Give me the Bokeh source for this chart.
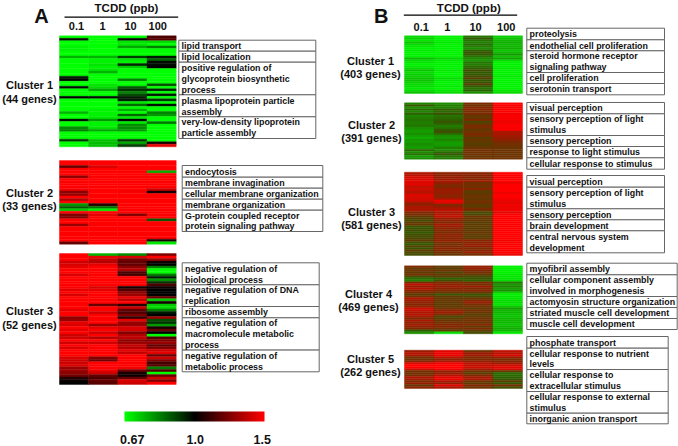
import numpy as np
from bokeh.embed import file_html
from bokeh.resources import INLINE
from bokeh.plotting import figure
from bokeh.models import ColumnDataSource, LinearColorMapper, ColorBar, FixedTicker
from bokeh.core.properties import value
from bokeh.transform import transform

doses = ["0.1", "1", "10", "100"]
legend_ticks = ["0.67", "1.0", "1.5"]

# Panel A: log-scaled expression, -1 green, 0 black, +1 red
a1_01 = [-1,-.05,-1,-1,-.95,-.95,-1,-1,-.7,-1, -1,-1,-1,-1,-1,-1,-.1,-.02,-1,-1, -.05,-1,-1,-1,-.02,-1,-1,-1,-1,-1, -.7,-1,-1,-.05,-1,-1,-.55,-.5,-1,-1, -1,-.2,-1,-1]
a1_1 = [-1,-1,-1,-1,-1,-1,-1,-1,-.7,-.95, -.95,-.9,-.95,-.9,-.7,-1,-1,-1,-1,-.9, -.85,-.65,-1,-1,-.05,-1,-1,-1,-1,-.95, -.95,-.95,-.9,-.6,-.95,-.95,-.9,-.65,-1,-1, -1,-.75,-.75,-.75]
a1_10 = [-1,-.02,-.9,-.9,-.65,-1,-1,-1,-.25,-.9, -.95,-.15,-.8,-1,-1,-1,-1,-.5,-1,-1, -.35,-.2,-.5,-.3,-.1,-.1,-.9,-.4,-1,-.7, -1,-.4,-.9,-.02,-.9,-.55,-.55,-.6,-1,-1, -1,-.2,-.65,-.25]
a1_100 = [.3,.35,-.85,-1,-.5,-1,-1,-1,-.1,-.4, -.05,-.05,-.02,-1,-1,-1,-1,-1,-1,-.3, -1,-.15,-1,-.1,-1,-.2,-1,-.05,-1,-1, -.5,-.6,-1,-1,-.45,-1,-1,-1,-1,-1, -1,-1,.1,.9]

a2_01 = [1,1,.4,1,1,1,.55,1,1,1, 1,.95,.55,.6,1,.7,1,-.6,-.35,-.8, 1,.5,.5,1,1,.6,1,1,1,1, 1,1,.4]
a2_1 = [1,1,.85,1,1,1,1,1,1,1, 1,1,1,1,1,1,1,.15,-.45,-.95, 1,.9,1,1,1,1,1,1,1,1, 1,1,1]
a2_10 = [1,1,1,1,1,1,1,1,1,1, 1,1,.95,1,1,1,1,1,1,1, 1,.5,1,1,1,1,1,1,1,1, 1,1,1]
a2_100 = [1,1,1,1,-.7,1,1,1,1,1, 1,.8,.1,1,1,1,1,1,1,1, 1,1,1,-.35,1,1,1,1,1,1, 1,.1,-.9]

a3_01 = [1,1,1,.8,.85,.9,1,1,.85,1, 1,1,1,1,.9,1,.85,1,1,1, 1,1,.9,1,1,.55,.6,.9,.85,1, .9,1,.8,.8,1,.8,1,.85,1,1, 1,.85,.8,.8,.85,.6,.6,.55,.45,.15, .05,0]
a3_1 = [-.7,.9,.75,.7,.9,1,1,1,1,1, 1,1,1,.85,.9,1,1,1,1,1, .4,1,1,.8,1,1,1,1,.6,.9, 1,.8,1,.7,1,.8,1,1,1,1, 1,.5,.45,1,1,1,.9,.8,.4,.3, .4,.35]
a3_10 = [-.55,.85,.45,.4,.4,.55,.7,.3,.25,1, 1,1,1,.1,.3,.55,.6,.9,.75,1, .15,.8,.4,.3,.5,.2,.9,.6,.6,.85, .85,.5,.7,.75,.55,.6,.75,.7,.9,.75, 1,1,1,1,1,.95,.45,.1,.05,.4, .85,.8]
a3_100 = [.5,1,.6,.05,0,-.5,-1,-1,-.5,-.1, -.6,-.2,.3,.05,0,0,0,.4,-.8,.1, -.8,-.85,-.5,-.1,0,.6,-.3,-.2,-.6,.1, .4,0,-1,.3,.5,.6,.4,.5,.8,.9, .4,.8,.5,.25,.35,-.5,.3,-1,.4,.8, .5,1]

# Panel B: averaged stripes, -1 green, 0 olive-brown, +1 red
b1_01 = [-.85,-.8,-.9,-.75,-.85,-.9,-.95,-.9,-.95,-.95, -.95,-.7,-.85,-.9,-.95,-.9,-.85,-.75,-.85,-.8, -.8,-.75,-.75,-.8,-.85,-.85,-.9,-.85,-.75]
b1_1 = [-.95,-.95,-.95,-.9,-.95,-.95,-.95,-.95,-.95,-.95, -.95,-.8,-.9,-.95,-.95,-.95,-.95,-.9,-.95,-.95, -.95,-.85,-.9,-.95,-.95,-.9,-.95,-.9,-.85]
b1_10 = [-.35,-.2,-.35,-.45,-.3,-.4,-.5,-.25,-.15,-.2, -.35,-.45,-.55,-.35,-.4,-.3,-.25,-.1,-.2,-.2, -.1,0,-.2,-.15,0,-.2,-.35,-.25,-.5]
b1_100 = [-.8,-.75,-.7,-.65,-.7,-.7,-.65,-.75,-.7,-.55, -.75,-.6,-.85,-.95,-.95,-.95,-.9,-.95,-.95,-.95, -.9,-.95,-.95,-.95,-.95,-.95,-.95,-.9,-.85]

b2_01 = [-.45,-.15,-.5,-.3,-.45,-.25,-.45,-.4,-.35,-.4, -.4,-.35,-.5,-.55,-.6,-.5,-.6,-.65,-.55,-.6, -.5,-.55,-.6,-.25,-.5,-.3,-.6,-.5]
b2_1 = [-.5,-.4,-.45,-.2,-.3,-.15,-.35,-.3,-.25,-.15, -.25,-.4,-.35,-.2,-.1,-.3,-.5,-.55,-.45,-.55, -.6,-.55,-.4,-.5,-.3,-.15,-.35,-.4]
b2_10 = [.3,.2,.35,.4,.25,.3,.15,.1,.35,-.05, .1,.3,.25,.1,.2,.3,.25,.05,.15,.1, 0,.1,.15,.25,.2,.2,.15,.2]
b2_100 = [.98,.98,.95,.98,.98,.95,.98,.95,.98,.9, .95,.98,.98,.98,.6,.6,.55,.5,.45,.3, .25,.2,.15,.2,.2,.15,.2,.2]

b3_01 = [.6,.65,.8,.8,.85,.85,.85,.7,.75,.7, .65,.85,.8,.8,.75,.55,.4,.6,.6,.6, .3,.3,.1,0,-.1,.1,.15,-.15,-.15,-.1, -.2,-.1,-.1,-.05,.1,-.1,-.2,0,-.15,.1, -.05,-.1]
b3_1 = [.45,.4,.5,.5,.6,.5,.35,.3,.5,.5, .5,.4,.4,.6,.9,.85,.3,.5,.6,.7, .55,.65,.7,.5,.45,.35,.55,.5,.4,.35, .3,.4,.45,.35,.5,.3,.25,.3,.4,.35, .25,.15]
b3_10 = [.4,.4,.4,.35,.55,.2,.25,.2,.4,.1, .05,.15,.2,.1,.2,.25,.05,.1,.3,.2, -.1,-.05,.2,.1,.15,0,.1,.05,.05,.1, .15,.1,.05,.1,.45,.35,.5,.45,.3,.35, .5,.25]
b3_100 = [1,1,.97,1,1,.9,1,1,1,1, .9,1,1,.95,.9,.85,.95,.9,.9,.95, .85,1,1,1,1,1,1,1,1,1, 1,1,1,1,.95,.95,1,1,1,1, 1,.9]

b4_01 = [.35,.1,.2,.1,.25,-.1,-.3,-.4,.3,.7, .5,.65,.4,.3,0,.25,.6,.5,.45,.35, .45,.75,.7,.6,.65,.55,.3,.6,.4,.55, .45,.35,-.2,-.5]
b4_1 = [.1,.05,.2,-.05,.15,0,-.25,-.1,.3,.45, .5,.4,.35,.15,-.15,.1,.1,.15,.1,.1, .1,.2,.45,.5,.3,-.05,.05,.15,.25,.3, .4,.2,.1,-.85]
b4_10 = [.45,.5,.3,.25,.1,-.1,-.15,-.25,.3,.25, .5,.3,.4,.15,-.15,-.05,.15,.35,.5,.25, .2,.1,.25,.15,.05,.1,.2,.25,.15,.4, .1,.3,.05,-.1]
b4_100 = [-.95,-.95,-.95,-.95,-.9,-.9,-.9,-.85,-.35,-.55, -.45,-.6,-.5,-.8,-.95,-.9,-.9,-.85,-.85,-.9, -.75,-.6,-.7,-.7,-.75,-.75,-.7,-.7,-.7,-.75, -.7,-.65,-.7,-.9]

b5_01 = [.5,.65,.6,.3,.2,.35,.8,1,1,.8, .2,.25,.25,.6,.55,.3,.5,.15,.4]
b5_1 = [.85,.9,.9,.7,.45,.55,.9,1,1,.95, .5,.45,.65,.85,.9,.6,.5,.85,.6]
b5_10 = [.2,.5,.55,.35,.3,.45,.65,.7,.75,.6, .2,.05,.3,.55,.6,.2,.1,.35,.2]
b5_100 = [.7,.65,.8,.55,.3,.35,.5,.75,.85,.8, .15,-.3,-.3,-.25,-.2,.05,-.2,.25,-.1]

a_terms1 = [["lipid transport"], ["lipid localization"], ["positive regulation of", "glycoprotein biosynthetic", "process"], ["plasma lipoprotein particle", "assembly"], ["very-low-density lipoprotein", "particle assembly"]]
a_terms2 = [["endocytosis"], ["membrane invagination"], ["cellular membrane organization"], ["membrane organization"], ["G-protein coupled receptor", "protein signaling pathway"]]
a_terms3 = [["negative regulation of", "biological process"], ["negative regulation of DNA", "replication"], ["ribosome assembly"], ["negative regulation of", "macromolecule metabolic", "process"], ["negative regulation of", "metabolic process"]]
b_terms1 = [["proteolysis"], ["endothelial cell proliferation"], ["steroid hormone receptor", "signaling pathway"], ["cell proliferation"], ["serotonin transport"]]
b_terms2 = [["visual perception"], ["sensory perception of light", "stimulus"], ["sensory perception"], ["response to light stimulus"], ["cellular response to stimulus"]]
b_terms3 = [["visual perception"], ["sensory perception of light", "stimulus"], ["sensory perception"], ["brain development"], ["central nervous system", "development"]]
b_terms4 = [["myofibril assembly"], ["cellular component assembly", "involved in morphogenesis"], ["actomyosin structure organization"], ["striated muscle cell development"], ["muscle cell development"]]
b_terms5 = [["phosphate transport"], ["cellular response to nutrient", "levels"], ["cellular response to", "extracellular stimulus"], ["cellular response to external", "stimulus"], ["inorganic anion transport"]]

FONT = value("Liberation Sans")
W, H = 678, 446


def ramp(nodes, n=256):
    xs = [k for k, _ in nodes]
    pos = np.linspace(-1, 1, n)
    chans = [np.interp(pos, xs, [c[i] for _, c in nodes]) for i in range(3)]
    return ["#%02x%02x%02x" % (int(r), int(g), int(b)) for r, g, b in zip(*chans)]


map_a = LinearColorMapper(palette=ramp([(-1, (0, 255, 0)), (0, (0, 0, 0)), (1, (255, 0, 0))]), low=-1, high=1)
map_b = LinearColorMapper(palette=ramp([(-1, (0, 255, 0)), (-.6, (20, 160, 0)), (-.2, (50, 90, 0)),
                                        (0, (85, 65, 0)), (.5, (150, 30, 0)), (1, (255, 0, 0))]), low=-1, high=1)

p = figure(width=W, height=H, x_range=(0, W), y_range=(H, 0), toolbar_location=None,
           output_backend="svg", min_border=0, outline_line_color=None, background_fill_color="white")
p.axis.visible = False
p.grid.visible = False


def heat(cols, x0, x1, y0, y1, mapper):
    assert len({len(c) for c in cols}) == 1
    n = len(cols[0])
    cw, rh = (x1 - x0) / 4, (y1 - y0) / n
    v = np.array(cols)
    ii, jj = np.meshgrid(np.arange(4), np.arange(n), indexing="ij")
    src = ColumnDataSource(dict(left=x0 + ii.ravel() * cw, right=x0 + (ii.ravel() + 1) * cw,
                                top=y0 + jj.ravel() * rh, bottom=y0 + (jj.ravel() + 1) * rh, v=v.ravel()))
    c = transform("v", mapper)
    p.quad(left="left", right="right", top="top", bottom="bottom", source=src,
           fill_color=c, line_color=c, line_width=0.4)


def label(x, y, s, size, align="center"):
    p.text([x], [y], text=[s], text_font=FONT, text_font_style="bold", text_font_size=size,
           text_align=align, text_baseline="middle", text_color="#111111")


def boxes(terms, x0, x1, ys):
    p.quad(left=[x0] * len(terms), right=[x1] * len(terms), top=ys[:-1], bottom=ys[1:],
           fill_color="white", line_color="#666666", line_width=1)
    for t, y0, y1 in zip(terms, ys[:-1], ys[1:]):
        step = (y1 - y0) / len(t)
        for k, s in enumerate(t):
            label(x0 + 2.8, y0 + step * (k + .5) + .2, s, "8.9px", "left")


def header(cx, rule, ry, tick_x, ty, letter, lx):
    label(cx, 7.5, "TCDD (ppb)", "11.5px")
    p.line(rule, [ry, ry], line_color="black", line_width=1.2)
    for x, d in zip(tick_x, doses):
        label(x, ty, d, "11px")
    label(lx, 15, letter, "20px")


header(126, [64, 177.7], 16.7, [76, 102, 130, 157.3], 25.7, "A", 41)
header(468.3, [403.3, 516.7], 14.7, [420.7, 446.7, 475, 505.7], 26.7, "B", 380.7)

AX = (59, 175.7)
BX = (404, 522)
heat([a1_01, a1_1, a1_10, a1_100], *AX, 35.3, 146.3, map_a)
heat([a2_01, a2_1, a2_10, a2_100], *AX, 160, 243.7, map_a)
heat([a3_01, a3_1, a3_10, a3_100], *AX, 253, 384, map_a)
heat([b1_01, b1_1, b1_10, b1_100], *BX, 35.3, 93, map_b)
heat([b2_01, b2_1, b2_10, b2_100], *BX, 102.3, 158.7, map_b)
heat([b3_01, b3_1, b3_10, b3_100], *BX, 171.7, 255, map_b)
heat([b4_01, b4_1, b4_10, b4_100], *BX, 265.3, 333.3, map_b)
heat([b5_01, b5_1, b5_10, b5_100], *BX, 349.7, 388, map_b)

boxes(a_terms1, 178.3, 315.3, [39.7, 50.7, 61.7, 94.3, 116.3, 138])
boxes(a_terms2, 181.7, 322.3, [165, 176.7, 187.7, 198.7, 209.7, 231])
boxes(a_terms3, 181.7, 318.7, [262.3, 284.3, 306, 317.3, 349.6, 371.3])
boxes(b_terms1, 526.3, 664, [27.7, 39.3, 50.3, 72, 83, 94.3])
boxes(b_terms2, 526.3, 664, [102, 113.3, 135, 146, 157.3, 168.7])
boxes(b_terms3, 526.3, 664, [175, 186.7, 208.3, 219.3, 230.3, 252.3])
boxes(b_terms4, 526.3, 676.7, [262.7, 274.3, 296, 307, 318, 329])
boxes(b_terms5, 526.3, 667.7, [336, 347.7, 369, 391, 412.7, 423.3])

for x, y0, y1, a, b in [(29, 84.3, 98, "Cluster 1", "(44 genes)"), (29, 192, 205, "Cluster 2", "(33 genes)"),
                        (29, 310.7, 324, "Cluster 3", "(52 genes)"), (370, 60.3, 73.7, "Cluster 1", "(403 genes)"),
                        (371, 124, 137.3, "Cluster 2", "(391 genes)"), (371, 211, 224.3, "Cluster 3", "(581 genes)"),
                        (368, 293.3, 306, "Cluster 4", "(469 genes)"), (370, 358.3, 371.7, "Cluster 5", "(262 genes)")]:
    label(x, y0, a, "11px")
    label(x, y1, b, "11px")

bar = ColorBar(color_mapper=map_a, orientation="horizontal", location=(124, H - 421), width=140, height=10,
               padding=0, margin=0, ticker=FixedTicker(ticks=[]), major_tick_line_color=None,
               minor_tick_line_color=None, bar_line_color=None, background_fill_color=None,
               border_line_color=None, major_label_text_font_size="0px")
p.add_layout(bar, "center")
for x, s in zip([131.7, 194.7, 261.7], legend_ticks):
    label(x, 438.5, s, "12.5px")

open("out.html", "w").write(file_html(p, INLINE))
